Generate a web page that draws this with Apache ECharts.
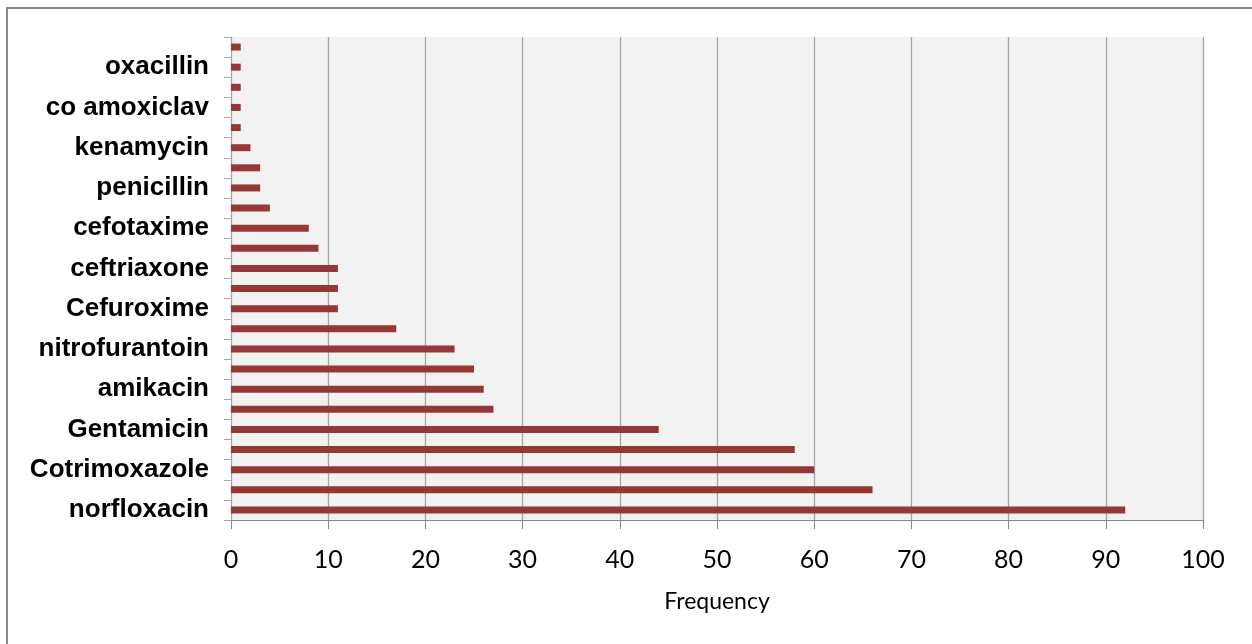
<!DOCTYPE html>
<html>
<head>
<meta charset="utf-8">
<script src="https://cdn.jsdelivr.net/npm/echarts@6/dist/echarts.min.js"></script>
<style>
html,body{margin:0;padding:0;background:#fff;}
#chart{width:1252px;height:644px;}
</style>
</head>
<body>
<div id="chart"></div>
<script>
// Categories from bottom to top (every other label is hidden in the original)
const categories = ['norfloxacin','','Cotrimoxazole','','Gentamicin','','amikacin','','nitrofurantoin','','Cefuroxime','','ceftriaxone','','cefotaxime','','penicillin','','kenamycin','','co amoxiclav','','oxacillin',''];
const frequency = [92,66,60,58,44,27,26,25,23,17,11,11,11,9,8,4,3,3,2,1,1,1,1,1];
const xTicks = {min:0, max:100, interval:10};
const xName = 'Frequency';

const chart = echarts.init(document.getElementById('chart'), null, {renderer:'canvas'});
chart.setOption({
  animation:false,
  backgroundColor:'#ffffff',
  graphic:[{
    type:'rect', silent:true, z:-1,
    shape:{x:7, y:8, width:1400, height:800},
    style:{fill:'none', stroke:'#878787', lineWidth:2}
  }],
  grid:{left:231, right:49, top:37, bottom:124, show:true, backgroundColor:'#f2f2f2', borderWidth:0},
  xAxis:{
    type:'value', min:xTicks.min, max:xTicks.max, interval:xTicks.interval,
    name:xName, nameLocation:'middle', nameGap:70,
    nameTextStyle:{fontFamily:'Lato', fontSize:23, color:'#000'},
    axisLine:{show:true, lineStyle:{color:'#878787', width:1}},
    axisTick:{show:true, length:9, lineStyle:{color:'#878787'}},
    axisLabel:{fontFamily:'Lato', fontSize:25, color:'#000', margin:27},
    splitLine:{show:true, lineStyle:{color:'#a6a6a6', width:1.3}}
  },
  yAxis:{
    type:'category', data:categories,
    axisLine:{show:true, lineStyle:{color:'#a6a6a6', width:1}},
    axisTick:{show:true, length:7, interval:0, lineStyle:{color:'#a6a6a6'}},
    axisLabel:{interval:1, fontFamily:'Liberation Sans', fontWeight:'bold', fontSize:26, color:'#000', margin:22, padding:[4,0,0,0]},
    splitLine:{show:false}
  },
  series:[{
    type:'bar', data:frequency, barWidth:7,
    itemStyle:{color:'#953735'}
  }]
});
</script>
</body>
</html>
